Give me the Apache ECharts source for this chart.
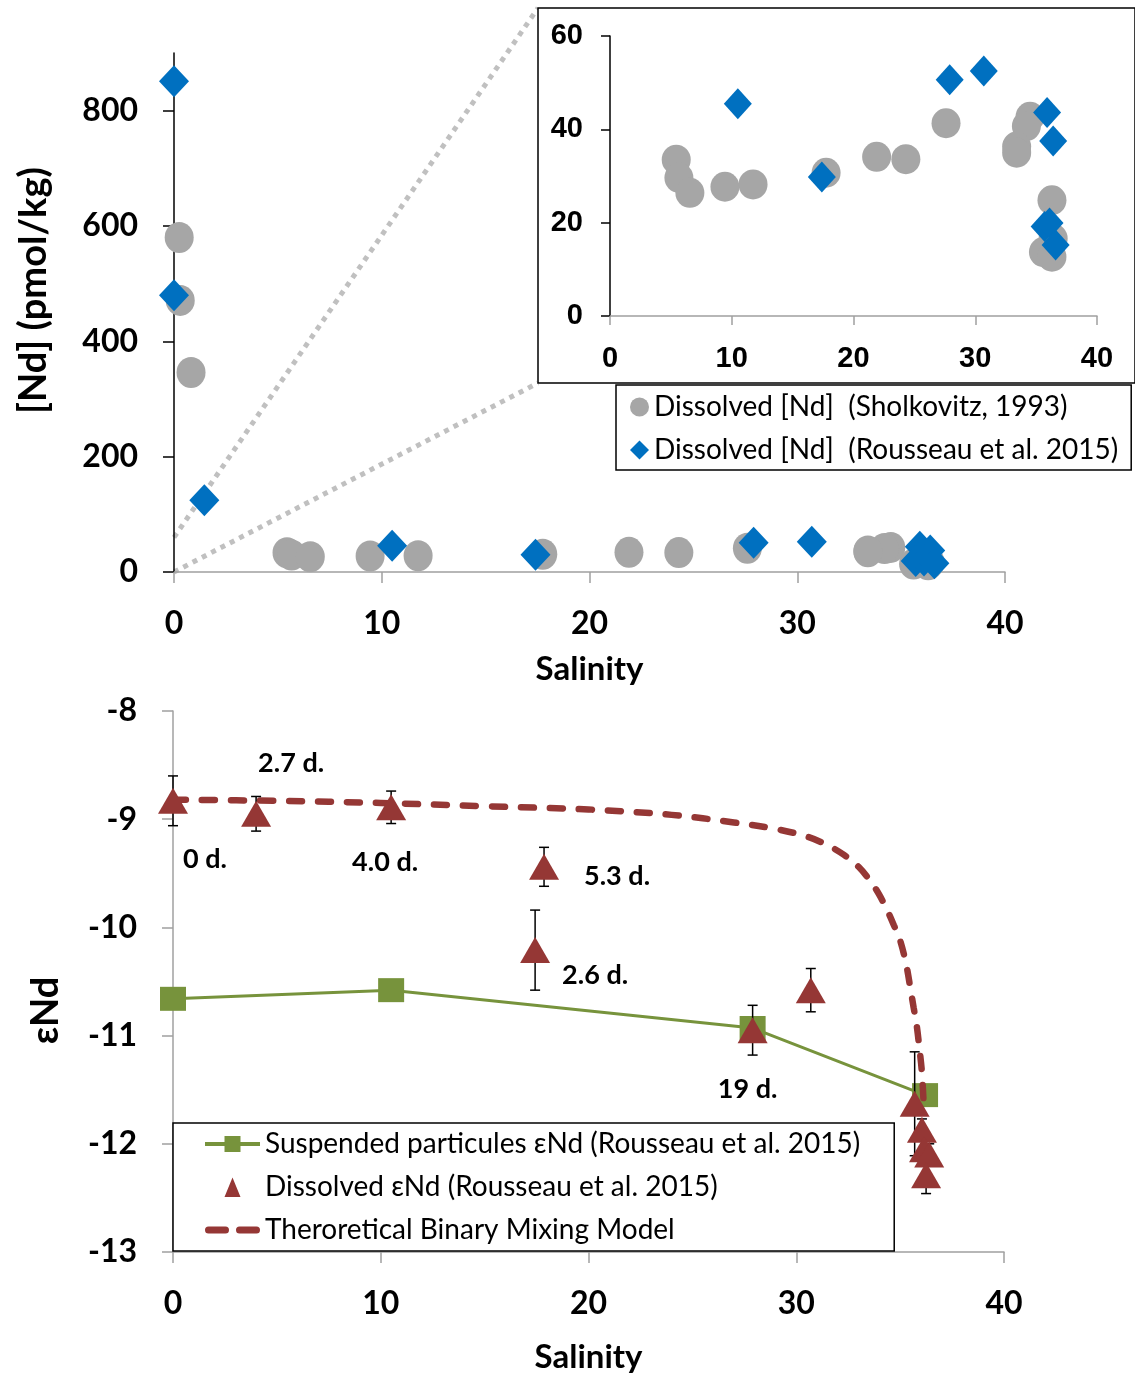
<!DOCTYPE html>
<html>
<head>
<meta charset="utf-8">
<script src="https://cdn.jsdelivr.net/npm/echarts@6/dist/echarts.min.js"></script>
<style>
html,body{margin:0;padding:0;background:#fff;}
#chart{width:1135px;height:1375px;}
</style>
</head>
<body>
<div id="chart"></div>
<script>
// ---------- DATA ----------
// Dissolved [Nd] (Sholkovitz, 1993): salinity, [Nd] pmol/kg
const sholkSal = [0.25, 0.3, 0.82, 5.44, 5.66, 6.56, 9.44, 11.75, 17.75, 21.9, 24.3, 27.6, 34.5, 34.2, 33.4, 33.4, 36.3, 36.4, 35.6, 36.3];
const sholkNd  = [580, 471, 346, 33.5, 29.6, 26.4, 27.7, 28.2, 30.7, 34.1, 33.6, 41.3, 42.7, 40.7, 36.3, 35.0, 24.8, 16.6, 13.7, 12.7];
// Dissolved [Nd] (Rousseau et al. 2015)
const rousSal = [0, 0, 1.46, 10.5, 17.4, 27.9, 30.7, 35.9, 36.4, 35.7, 36.1, 36.6];
const rousNd  = [851, 480, 124.5, 45.5, 29.8, 50.6, 52.5, 43.6, 37.5, 19.2, 19.95, 15.2];
// Suspended particules eNd
const partSal = [0, 10.5, 27.9, 36.2];
const partEnd = [-10.66, -10.58, -10.93, -11.55];
// Dissolved eNd with error
const dissSal = [0, 4.0, 10.5, 17.86, 17.43, 30.7, 27.9, 35.7, 36.05, 36.15, 36.4, 36.25];
const dissEnd = [-8.83, -8.95, -8.89, -9.44, -10.21, -10.58, -10.95, -11.63, -11.87, -12.05, -12.1, -12.29];
const dissErr = [0.23, 0.16, 0.15, 0.18, 0.37, 0.2, 0.23, 0.48, 0.1, 0.12, 0.1, 0.17];
const dayLabels = ['0 d.', '2.7 d.', '4.0 d.', '5.3 d.', '2.6 d.', '', '19 d.', '', '', '', '', ''];
// Theoretical binary mixing model
const modelSal = [0, 5, 10, 15, 20, 24, 27, 29, 30.5, 31.5, 32.3, 33, 33.6, 34.0, 34.4, 34.7, 35.0, 35.3, 35.5, 35.65, 35.8, 35.93, 36.04, 36.12];
const modelEnd = [-8.82, -8.83, -8.85, -8.88, -8.91, -8.96, -9.03, -9.09, -9.16, -9.24, -9.33, -9.44, -9.58, -9.7, -9.85, -9.98, -10.12, -10.35, -10.57, -10.74, -10.91, -11.12, -11.32, -11.58];
// Tick labels
const mainYTicks = [0, 200, 400, 600, 800];
const insetYTicks = [0, 20, 40, 60];
const salTicks = [0, 10, 20, 30, 40];

const NAME_SH = 'Dissolved [Nd]  (Sholkovitz, 1993)';
const NAME_RO = 'Dissolved [Nd]  (Rousseau et al. 2015)';
const NAME_PA = 'Suspended particules εNd (Rousseau et al. 2015)';
const NAME_DI = 'Dissolved εNd (Rousseau et al. 2015)';
const NAME_MO = 'Theroretical Binary Mixing Model';

const labelOffsets = [[32, 58], [35, -50], [-6, 55], [73, 9], [60, 25], [0, 0], [-5, 59], [0,0],[0,0],[0,0],[0,0],[0,0]];

const zip = (a, b) => a.map((v, i) => [v, b[i]]);
const sholk = zip(sholkSal, sholkNd);
const rous = zip(rousSal, rousNd);

const GRAY = '#A6A6A6', BLUE = '#0070C0', GREEN = '#77933C', RED = '#953735';
const F = 'Lato, "Open Sans", sans-serif';
const tickFont = {fontFamily: F, fontWeight: 'bold', fontSize: 32, color: '#000'};
const insetFont = {fontFamily: '"Liberation Sans", Arial, sans-serif', fontWeight: 'bold', fontSize: 29, color: '#000'};

const chart = echarts.init(document.getElementById('chart'), null, {renderer: 'canvas'});

// legend icons (shapes only; fitted to the legend icon box)
const dashIcon = 'path://M3.5,0 H20.5 A3.5,3.5 0 0 1 20.5,7 H3.5 A3.5,3.5 0 0 1 3.5,0 Z M34.5,0 H51.5 A3.5,3.5 0 0 1 51.5,7 H34.5 A3.5,3.5 0 0 1 34.5,0 Z';
const triIcon = 'path://M0,0 L0.01,0 L0,0.01 Z M55,20 L54.99,20 L55,19.99 Z M19.5,20 L27.5,0.5 L35.5,20 Z';

const option = {
  backgroundColor: '#fff',
  animation: false,
  grid: [
    {left: 174, top: 53, width: 831, height: 519},
    {left: 610, top: 36, width: 487, height: 280},
    {left: 173, top: 711, width: 831, height: 541}
  ],
  xAxis: [
    {gridIndex: 0, type: 'value', min: 0, max: 40, interval: 10,
     name: 'Salinity', nameLocation: 'middle', nameGap: 81,
     nameTextStyle: {fontFamily: F, fontWeight: 'bold', fontSize: 33, color: '#000'},
     axisLine: {lineStyle: {color: '#A0A0A0', width: 1.5}},
     axisTick: {show: true, length: 11, lineStyle: {color: '#A0A0A0', width: 1.5}},
     axisLabel: Object.assign({margin: 36, customValues: salTicks}, tickFont),
     splitLine: {show: false}},
    {gridIndex: 1, type: 'value', min: 0, max: 40, interval: 10,
     axisLine: {lineStyle: {color: '#A0A0A0', width: 1.5}},
     axisTick: {show: true, length: 9, lineStyle: {color: '#A0A0A0', width: 1.5}},
     axisLabel: Object.assign({margin: 28}, insetFont),
     splitLine: {show: false}},
    {gridIndex: 2, type: 'value', min: 0, max: 40, interval: 10,
     name: 'Salinity', nameLocation: 'middle', nameGap: 89,
     nameTextStyle: {fontFamily: F, fontWeight: 'bold', fontSize: 33, color: '#000'},
     axisLine: {lineStyle: {color: '#A0A0A0', width: 1.5}},
     axisTick: {show: true, length: 11, lineStyle: {color: '#A0A0A0', width: 1.5}},
     axisLabel: Object.assign({margin: 36}, tickFont),
     splitLine: {show: false}}
  ],
  yAxis: [
    {gridIndex: 0, type: 'value', min: 0, max: 900,
     name: '[Nd] (pmol/kg)', nameLocation: 'middle', nameGap: 121,
     nameTextStyle: {fontFamily: F, fontWeight: 'bold', fontSize: 38, color: '#000', padding: [0, 0, 0, 44]},
     axisLine: {lineStyle: {color: '#000', width: 1.5}},
     axisTick: {show: true, length: 11, customValues: mainYTicks, lineStyle: {color: '#000', width: 1.5}},
     axisLabel: Object.assign({margin: 36, customValues: mainYTicks}, tickFont),
     splitLine: {show: false}},
    {gridIndex: 1, type: 'value', min: 0, max: 60, interval: 20,
     axisLine: {lineStyle: {color: '#000', width: 1.5}},
     axisTick: {show: true, length: 9, lineStyle: {color: '#000', width: 1.5}},
     axisLabel: Object.assign({margin: 27, customValues: insetYTicks}, insetFont),
     splitLine: {show: false}},
    {gridIndex: 2, type: 'value', min: -13, max: -8, interval: 1,
     name: 'εNd', nameLocation: 'middle', nameGap: 108,
     nameTextStyle: {fontFamily: F, fontWeight: 'bold', fontSize: 38, color: '#000', padding: [0, 58, 0, 0]},
     axisLine: {lineStyle: {color: '#A0A0A0', width: 1.5}},
     axisTick: {show: true, length: 11, lineStyle: {color: '#A0A0A0', width: 1.5}},
     axisLabel: Object.assign({margin: 36}, tickFont),
     splitLine: {show: false}}
  ],
  legend: [
    {left: 616, top: 385, orient: 'vertical',
     data: [{name: NAME_SH, icon: 'circle'}, {name: NAME_RO, icon: 'diamond'}],
     itemWidth: 19, itemHeight: 19, itemGap: 13, symbolKeepAspect: true,
     padding: [7, 13, 5, 14], borderColor: '#000', borderWidth: 1.5, backgroundColor: '#fff',
     textStyle: {fontFamily: F, fontSize: 28, color: '#000', lineHeight: 30}},
    {left: 173, top: 1123, orient: 'vertical',
     data: [
       {name: NAME_PA, lineStyle: {width: 4}},
       {name: NAME_DI, icon: triIcon},
       {name: NAME_MO, icon: dashIcon}
     ],
     itemWidth: 55, itemHeight: 20, itemGap: 13,
     padding: [6, 34, 6, 30], borderColor: '#000', borderWidth: 1.5, backgroundColor: '#fff',
     textStyle: {fontFamily: F, fontSize: 28, color: '#000', lineHeight: 30}}
  ],
  graphic: {elements: [
    {id: 'insetBox', type: 'rect', z: -1, shape: {x: 538, y: 8, width: 597, height: 375},
     style: {fill: '#fff', stroke: '#000', lineWidth: 1.5}}
  ]},
  series: [
    {name: NAME_SH, type: 'scatter', xAxisIndex: 0, yAxisIndex: 0, data: sholk,
     symbol: 'circle', symbolSize: [29, 31], itemStyle: {color: GRAY, opacity: 1}, z: 2},
    {name: NAME_RO, type: 'scatter', xAxisIndex: 0, yAxisIndex: 0, data: rous,
     symbol: 'diamond', symbolSize: [30, 32], itemStyle: {color: BLUE, opacity: 1}, z: 3},
    {name: NAME_SH, type: 'scatter', xAxisIndex: 1, yAxisIndex: 1, data: sholk.filter(d => d[1] <= 60),
     symbol: 'circle', symbolSize: [29, 30], itemStyle: {color: GRAY, opacity: 1}, z: 4},
    {name: NAME_RO, type: 'scatter', xAxisIndex: 1, yAxisIndex: 1, data: rous.filter(d => d[1] <= 60),
     symbol: 'diamond', symbolSize: [28, 31], itemStyle: {color: BLUE, opacity: 1}, z: 5},
    {name: NAME_PA, type: 'line', xAxisIndex: 2, yAxisIndex: 2, data: zip(partSal, partEnd),
     symbol: 'rect', symbolSize: [26, 24], lineStyle: {color: GREEN, width: 3},
     itemStyle: {color: GREEN, opacity: 1}, z: 2},
    {name: NAME_MO, type: 'line', xAxisIndex: 2, yAxisIndex: 2, data: zip(modelSal, modelEnd),
     symbol: 'none', smooth: 0.35,
     lineStyle: {color: RED, width: 6.5, type: [13, 16], cap: 'round'},
     itemStyle: {color: RED}, z: 3},
    {name: 'errorbars', type: 'custom', xAxisIndex: 2, yAxisIndex: 2,
     data: dissSal.map((s, i) => [s, dissEnd[i], dissErr[i]]),
     encode: {x: 0, y: 1}, z: 4, silent: true,
     renderItem: function (params, api) {
       const x = api.value(0), y = api.value(1), e = api.value(2);
       const t = api.coord([x, y + e]), b = api.coord([x, y - e]);
       const c = 5, st = {stroke: '#000', lineWidth: 1.5};
       return {type: 'group', children: [
         {type: 'line', shape: {x1: t[0], y1: t[1], x2: b[0], y2: b[1]}, style: st},
         {type: 'line', shape: {x1: t[0] - c, y1: t[1], x2: t[0] + c, y2: t[1]}, style: st},
         {type: 'line', shape: {x1: b[0] - c, y1: b[1], x2: b[0] + c, y2: b[1]}, style: st}
       ]};
     }},
    {name: NAME_DI, type: 'scatter', xAxisIndex: 2, yAxisIndex: 2,
     data: dissSal.map((s, i) => ({
       value: [s, dissEnd[i]],
       label: dayLabels[i] ? {show: true, formatter: dayLabels[i], offset: labelOffsets[i]} : {show: false}
     })),
     symbol: 'triangle', symbolSize: [30, 26], itemStyle: {color: RED, opacity: 1},
     label: {position: 'inside', fontFamily: F, fontWeight: 'bold', fontSize: 27, color: '#000'},
     z: 5}
  ]
};
chart.setOption(option);

// zoom connector lines from the main plot to the inset box
const pTop = chart.convertToPixel({xAxisIndex: 0, yAxisIndex: 0}, [0, 60]);
const pOrig = chart.convertToPixel({xAxisIndex: 0, yAxisIndex: 0}, [0, 0]);
const dotStyle = {stroke: '#C0C0C0', lineWidth: 5, lineDash: [5, 5.5]};
chart.setOption({graphic: {elements: [
  {id: 'zoomLine1', type: 'line', z: -2, shape: {x1: pTop[0], y1: pTop[1], x2: 538, y2: 8}, style: dotStyle},
  {id: 'zoomLine2', type: 'line', z: -2, shape: {x1: pOrig[0], y1: pOrig[1], x2: 538, y2: 383}, style: dotStyle}
]}});
</script>
</body>
</html>
